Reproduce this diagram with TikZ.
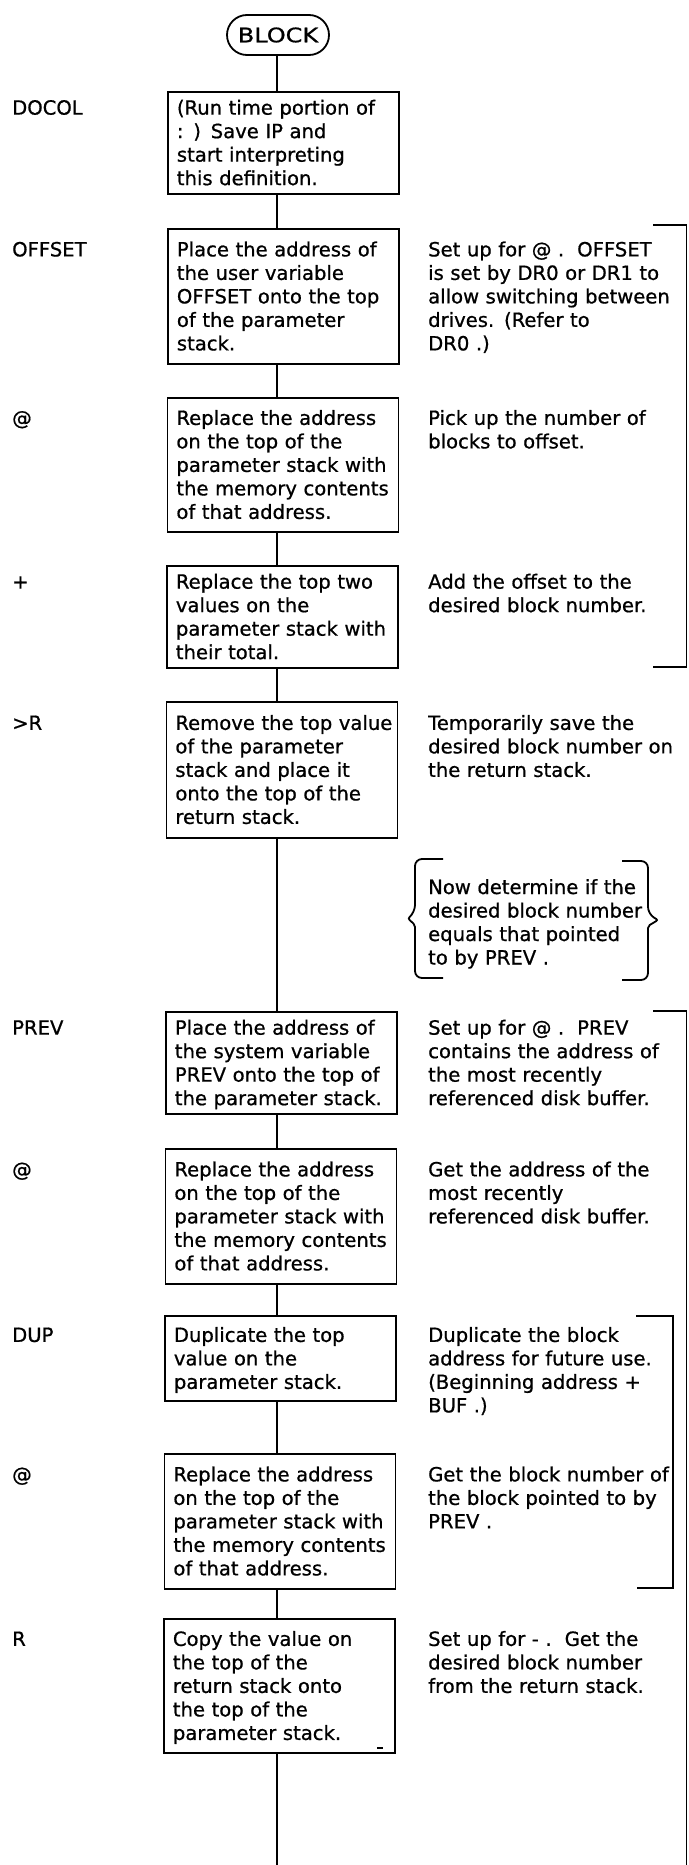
\documentclass[tikz,border=0pt]{standalone}
\usepackage{fontspec}
\setmainfont{DejaVu Sans}[FakeBold=0.8]
\usepackage{graphicx}
\newcommand\mainsz{\fontsize{19.6pt}{23.5pt}\selectfont}
\newcommand\bxt[1]{\raggedright\leftskip=9pt\relax #1\par}
\begin{document}
\begin{tikzpicture}[x=1pt,y=-1pt,
  flow/.style={line width=1.8pt},
  term/.style={draw, line width=1.8pt, rounded corners=20pt, minimum width=102pt,
    minimum height=40pt, inner sep=0pt, font=\fontsize{20pt}{24pt}\selectfont},
  pbox/.style 2 args={draw, line width=1.8pt, anchor=north west, text width=231pt,
    inner xsep=0pt, inner ysep=0pt, text height=#1, text depth=#2, font=\mainsz},
  lbl/.style={anchor=base west, inner sep=0pt, font=\mainsz},
  cmt/.style={anchor=base west, inner sep=0pt, text width=258pt, align=left, font=\mainsz}]
\useasboundingbox (0,0) rectangle (688,1865);
\coordinate (spine) at (277,0);
\coordinate (lx) at (12,0);
\coordinate (cx) at (428,0);

% terminal
\node[term] (blk) at (278,35) {\scalebox{1.2}[1]{BLOCK}};

% process boxes
\node[pbox={22.75pt}{79.25pt}] (b1) at (167,91) {\bxt{(Run time portion of\\ : ) Save IP and\\ start interpreting\\ this definition.}};
\node[pbox={27.5pt}{107.5pt}] (b2) at (167,228) {\bxt{Place the address of\\ the user variable\\ OFFSET onto the top\\ of the parameter\\ stack.}};
\node[pbox={27pt}{107pt}] (b3) at (166.5,397) {\bxt{Replace the address\\ on the top of the\\ parameter stack with\\ the memory contents\\ of that address.}};
\node[pbox={22.75pt}{79.25pt}] (b4) at (166,565) {\bxt{Replace the top two\\ values on the\\ parameter stack with\\ their total.}};
\node[pbox={28pt}{108pt}] (b5) at (165.5,701) {\bxt{Remove the top value\\ of the parameter\\ stack and place it\\ onto the top of the\\ return stack.}};
\node[pbox={22.75pt}{79.25pt}] (b6) at (165,1011) {\bxt{Place the address of\\ the system variable\\ PREV onto the top of\\ the parameter stack.}};
\node[pbox={27.5pt}{107.5pt}] (b7) at (164.5,1148) {\bxt{Replace the address\\ on the top of the\\ parameter stack with\\ the memory contents\\ of that address.}};
\node[pbox={26pt}{59pt}] (b8) at (164,1315) {\bxt{Duplicate the top\\ value on the\\ parameter stack.}};
\node[pbox={27.5pt}{107.5pt}] (b9) at (163.5,1453) {\bxt{Replace the address\\ on the top of the\\ parameter stack with\\ the memory contents\\ of that address.}};
\node[pbox={27pt}{107pt}] (b10) at (163,1618) {\bxt{Copy the value on\\ the top of the\\ return stack onto\\ the top of the\\ parameter stack.}};
\coordinate (endpt) at (277,1865);

% left labels
\node[lbl] (l1) at (b1.base -| lx) {DOCOL};
\node[lbl] (l2) at (b2.base -| lx) {OFFSET};
\node[lbl] (l3) at (b3.base -| lx) {@};
\node[lbl] (l4) at (b4.base -| lx) {+};
\node[lbl] (l5) at (b5.base -| lx) {>R};
\node[lbl] (l6) at (b6.base -| lx) {PREV};
\node[lbl] (l7) at (b7.base -| lx) {@};
\node[lbl] (l8) at (b8.base -| lx) {DUP};
\node[lbl] (l9) at (b9.base -| lx) {@};
\node[lbl] (l10) at (b10.base -| lx) {R};

% comments
\node[cmt] (c2) at (b2.base -| cx) {Set up for @ .\ \ OFFSET\\ is set by DR0 or DR1 to\\ allow switching between\\ drives. (Refer to\\ DR0 .)};
\node[cmt] (c3) at (b3.base -| cx) {Pick up the number of\\ blocks to offset.};
\node[cmt] (c4) at (b4.base -| cx) {Add the offset to the\\ desired block number.};
\node[cmt] (c5) at (b5.base -| cx) {Temporarily save the\\ desired block number on\\ the return stack.};
\node[cmt] (note) at (428,894) {Now determine if the\\ desired block number\\ equals that pointed\\ to by PREV .};
\node[cmt] (c6) at (b6.base -| cx) {Set up for @ .\ \ PREV\\ contains the address of\\ the most recently\\ referenced disk buffer.};
\node[cmt] (c7) at (b7.base -| cx) {Get the address of the\\ most recently\\ referenced disk buffer.};
\node[cmt] (c8) at (b8.base -| cx) {Duplicate the block\\ address for future use.\\ (Beginning address +\\ BUF .)};
\node[cmt] (c9) at (b9.base -| cx) {Get the block number of\\ the block pointed to by\\ PREV .};
\node[cmt] (c10) at (b10.base -| cx) {Set up for - .\ \ Get the\\ desired block number\\ from the return stack.};

% connectors
\draw[flow] (blk.south -| spine) -- (b1.north -| spine);
\draw[flow] (b1.south -| spine) -- (b2.north -| spine);
\draw[flow] (b2.south -| spine) -- (b3.north -| spine);
\draw[flow] (b3.south -| spine) -- (b4.north -| spine);
\draw[flow] (b4.south -| spine) -- (b5.north -| spine);
\draw[flow] (b5.south -| spine) -- (b6.north -| spine);
\draw[flow] (b6.south -| spine) -- (b7.north -| spine);
\draw[flow] (b7.south -| spine) -- (b8.north -| spine);
\draw[flow] (b8.south -| spine) -- (b9.north -| spine);
\draw[flow] (b9.south -| spine) -- (b10.north -| spine);
\draw[flow] (b10.south -| spine) -- (endpt);

% brackets
\draw[flow] (653,225) -- (686.5,225) -- (686.5,667) -- (653,667);
\draw[flow] (653,1011) -- (686.5,1011) -- (686.5,1865);
\draw[flow] (636,1316) -- (673,1316) -- (673,1588) -- (637,1588);

% braces around the note
\draw[flow, rounded corners=7pt] (443,859) -- (415,859) -- (415,912)
  [rounded corners=2pt] -- (408,918.5) -- (415,925)
  [rounded corners=7pt] -- (415,978) -- (443,978);
\draw[flow, rounded corners=7pt] (622,861) -- (648,861) -- (648,914)
  [rounded corners=2pt] -- (658,920) -- (648,926)
  [rounded corners=7pt] -- (648,980) -- (622,980);

% small mark in last box
\draw[line width=1.5pt] (377,1748) -- (383,1748);
\end{tikzpicture}
\end{document}
